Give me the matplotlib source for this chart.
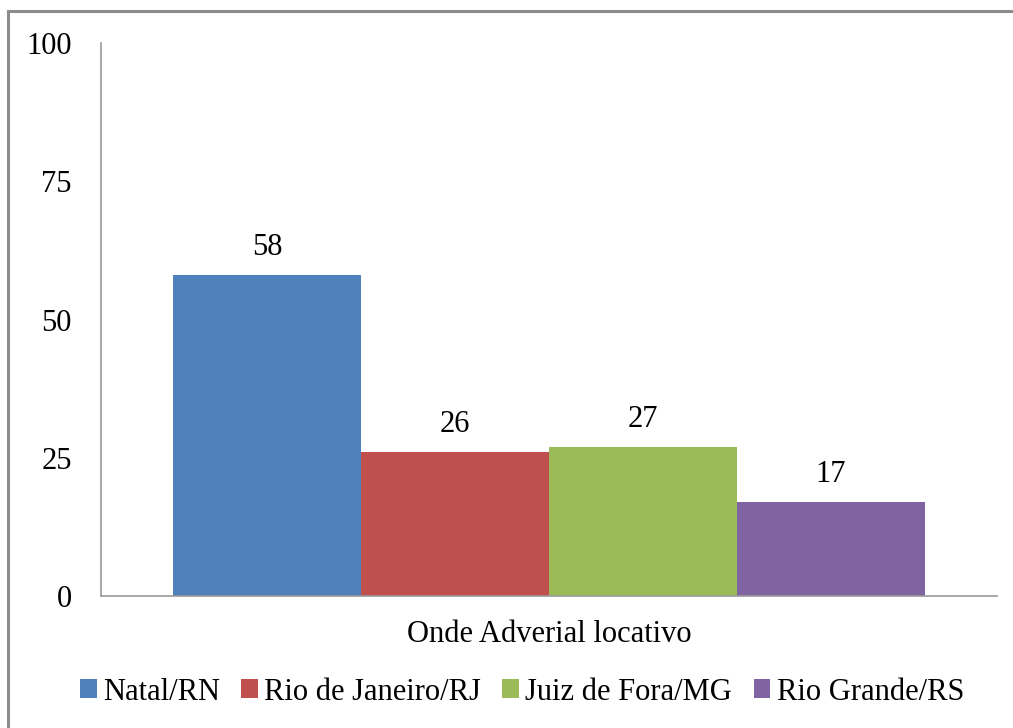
import matplotlib.pyplot as plt
from matplotlib.patches import Rectangle

plt.rcParams['font.family'] = ['Liberation Serif', 'DejaVu Serif']
plt.rcParams['font.size'] = 22

# data
categories = ["Natal/RN", "Rio de Janeiro/RJ", "Juiz de Fora/MG", "Rio Grande/RS"]
values = [58, 26, 27, 17]
colors = ["#4F81BD", "#C0504D", "#9BBB59", "#8064A2"]
group_label = "Onde Adverial locativo"
yticks = [0, 25, 50, 75, 100]

fig = plt.figure(figsize=(10.13, 7.28), dpi=100)
ax = fig.add_axes([0.0997, 0.181, 0.8845, 0.760])

positions = list(range(len(values)))
bars = []
for pos, val, col, cat in zip(positions, values, colors, categories):
    b = ax.bar(pos, val, width=1.0, color=col, label=cat, linewidth=0)
    bars.append(b)
    ax.annotate(str(val), xy=(pos, val), xytext=(0, 20), textcoords="offset points",
                ha="center", va="center", fontsize=22)

pad = 0.383
ax.set_xlim(-0.5 - pad, len(values) - 0.5 + pad)
ax.set_ylim(0, 100)
ax.set_yticks(yticks)
ax.set_xticks([])
ax.tick_params(axis="y", length=0, pad=21, labelsize=22)

for side in ["top", "right"]:
    ax.spines[side].set_visible(False)
for side in ["left", "bottom"]:
    ax.spines[side].set_color("#9a9a9a")
    ax.spines[side].set_linewidth(1.2)

fig.text(549 / 1013, 1 - 635 / 728, group_label, ha="center", va="center", fontsize=22)

fig.legend(handles=[b[0] for b in bars], labels=categories, loc="center",
           bbox_to_anchor=(522 / 1013, 1 - 692 / 728), ncol=4, frameon=False,
           handlelength=0.55, handleheight=0.55, handletextpad=0.2,
           columnspacing=0.7, fontsize=22)

# outer chart border
fig.patches.append(Rectangle((8 / 1013, -0.05), 1.1, 1 - 11 / 728 + 0.05,
                             transform=fig.transFigure, fill=False,
                             edgecolor="#8c8c8c", linewidth=2.2))

fig.savefig("out.png", dpi=100)
